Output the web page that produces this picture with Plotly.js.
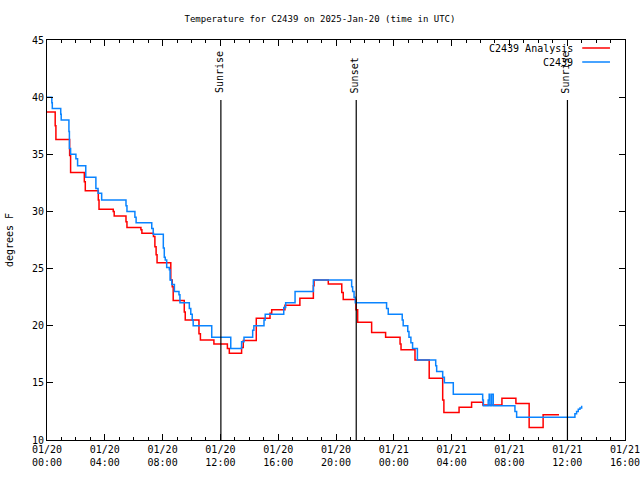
<!DOCTYPE html>
<html>
<head>
<meta charset="utf-8">
<script src="https://cdn.plot.ly/plotly-3.0.1.min.js"></script>
<style>html,body{margin:0;padding:0;background:#fff;}#chart{width:640px;height:480px;}</style>
</head>
<body>
<div id="chart"></div>
<script>
// C2439 Analysis (red) step changes
var analysisTimes = [
 '2025-01-20 00:00','2025-01-20 00:34','2025-01-20 00:37','2025-01-20 01:34','2025-01-20 01:38',
 '2025-01-20 02:35','2025-01-20 02:39','2025-01-20 03:33','2025-01-20 03:36','2025-01-20 04:35',
 '2025-01-20 04:39','2025-01-20 05:28','2025-01-20 05:32','2025-01-20 06:30','2025-01-20 06:34',
 '2025-01-20 07:22','2025-01-20 07:28','2025-01-20 07:33','2025-01-20 07:37','2025-01-20 08:34',
 '2025-01-20 08:40','2025-01-20 08:44','2025-01-20 09:30','2025-01-20 09:34','2025-01-20 10:31',
 '2025-01-20 10:37','2025-01-20 11:33','2025-01-20 12:29','2025-01-20 12:37','2025-01-20 13:28',
 '2025-01-20 13:35','2025-01-20 14:29','2025-01-20 15:26','2025-01-20 15:33','2025-01-20 16:28',
 '2025-01-20 17:30','2025-01-20 18:26','2025-01-20 18:29','2025-01-20 19:28','2025-01-20 20:24',
 '2025-01-20 20:30','2025-01-20 21:23','2025-01-20 21:30','2025-01-20 22:28','2025-01-20 23:26',
 '2025-01-21 00:26','2025-01-21 00:30','2025-01-21 01:28','2025-01-21 02:27','2025-01-21 03:23',
 '2025-01-21 03:28','2025-01-21 04:31','2025-01-21 05:23','2025-01-21 06:10','2025-01-21 07:29',
 '2025-01-21 08:27','2025-01-21 09:22','2025-01-21 10:20','2025-01-21 11:26'
];
var analysisTemps = [
 38.7,37.5,36.3,34.9,33.4,
 32.6,31.8,31.0,30.2,30.0,
 29.6,29.1,28.6,28.4,28.1,
 27.8,26.9,26.2,25.5,24.0,
 23.4,22.2,21.2,20.5,19.3,
 18.75,18.4,18.0,17.6,18.1,
 18.7,20.65,21.1,21.4,21.8,
 22.4,23.5,24.0,23.65,22.9,
 22.3,21.4,20.3,19.4,19.0,
 18.4,17.9,17.0,15.4,13.5,
 12.4,12.86,13.3,13.06,13.65,
 13.2,11.1,12.2,12.2
];
// C2439 observations (blue) step changes
var obsTimes = [
 '2025-01-20 00:00','2025-01-20 00:20','2025-01-20 00:22','2025-01-20 00:57','2025-01-20 00:59',
 '2025-01-20 01:31','2025-01-20 01:33','2025-01-20 01:38','2025-01-20 02:00','2025-01-20 02:07',
 '2025-01-20 02:41','2025-01-20 03:23','2025-01-20 03:32','2025-01-20 03:47','2025-01-20 05:28',
 '2025-01-20 05:32','2025-01-20 06:05','2025-01-20 06:10','2025-01-20 07:15','2025-01-20 07:21',
 '2025-01-20 08:03','2025-01-20 08:07','2025-01-20 08:11','2025-01-20 08:17','2025-01-20 08:28',
 '2025-01-20 08:31','2025-01-20 08:38','2025-01-20 08:49','2025-01-20 09:08','2025-01-20 09:12',
 '2025-01-20 09:51','2025-01-20 09:57','2025-01-20 10:03','2025-01-20 10:07','2025-01-20 11:24',
 '2025-01-20 12:43','2025-01-20 13:28','2025-01-20 13:38','2025-01-20 14:14','2025-01-20 14:19',
 '2025-01-20 15:01','2025-01-20 15:06','2025-01-20 16:23','2025-01-20 16:31','2025-01-20 17:10',
 '2025-01-20 18:26','2025-01-20 21:05','2025-01-20 21:09','2025-01-20 21:15','2025-01-20 21:20',
 '2025-01-20 23:30','2025-01-20 23:37','2025-01-21 00:35','2025-01-21 00:39','2025-01-21 00:58',
 '2025-01-21 01:03','2025-01-21 01:11','2025-01-21 01:18','2025-01-21 01:38','2025-01-21 02:54',
 '2025-01-21 02:58','2025-01-21 03:23','2025-01-21 03:30','2025-01-21 04:07','2025-01-21 06:09',
 '2025-01-21 06:12','2025-01-21 06:32','2025-01-21 06:36','2025-01-21 06:39','2025-01-21 06:46',
 '2025-01-21 06:53','2025-01-21 08:23','2025-01-21 08:30','2025-01-21 12:25','2025-01-21 12:32',
 '2025-01-21 12:39','2025-01-21 12:46','2025-01-21 12:53','2025-01-21 13:00'
];
var obsTemps = [
 40.0,39.5,39.0,38.5,38.0,
 37.0,35.5,35.0,34.6,34.0,
 33.0,32.0,31.6,31.0,30.5,
 30.0,29.5,29.0,28.5,28.0,
 26.8,26.0,25.75,25.1,24.9,
 24.0,23.6,23.0,22.7,22.0,
 21.5,21.0,20.5,20.0,19.0,
 18.0,18.6,19.0,19.6,20.0,
 20.5,21.0,21.6,22.0,23.0,
 24.0,23.4,23.0,22.5,22.0,
 21.5,21.0,20.5,20.0,19.5,
 19.0,18.5,18.0,17.0,16.5,
 16.0,15.5,15.0,14.0,13.5,
 13.0,13.5,14.0,13.0,14.0,
 13.0,12.5,12.0,12.0,12.3,
 12.5,12.7,12.8,13.0
];
var sunTimes = ['2025-01-20 12:02','2025-01-20 21:24','2025-01-21 12:01'];
var sunLabels = ['Sunrise','Sunset','Sunrise'];
var seriesNames = ['C2439 Analysis','C2439'];
var seriesColors = ['#ff0000','#0a84ff'];
var xTickFormat = '%m/%d<br>%H:%M';

var FONT = 'DejaVu Sans Mono, monospace';
var traces = [
 {x: analysisTimes, y: analysisTemps, name: seriesNames[0], type:'scatter', mode:'lines',
  line:{shape:'hv', color: seriesColors[0], width:1.5}},
 {x: obsTimes, y: obsTemps, name: seriesNames[1], type:'scatter', mode:'lines',
  line:{shape:'hv', color: seriesColors[1], width:1.5}}
];

var shapes = [];
var annotations = [];
sunTimes.forEach(function(t, i){
  shapes.push({type:'line', xref:'x', yref:'paper', x0:t, x1:t, y0:0, y1:0.85,
    line:{color:'#000', width:1.2}});
  annotations.push({xref:'x', yref:'paper', x:t, y:0.862, text:sunLabels[i], showarrow:false,
    textangle:-90, xanchor:'center', yanchor:'bottom', xshift:-2,
    font:{family:FONT, size:10, color:'#000'}});
});
// legend (text right-aligned, sample on the right like the original)
var legY = [0.98, 0.945];
seriesNames.forEach(function(n, i){
  annotations.push({xref:'paper', yref:'paper', x:0.9135, y:legY[i], text:n, showarrow:false,
    xanchor:'right', yanchor:'middle', font:{family:FONT, size:10, color:'#000'}});
  shapes.push({type:'line', xref:'paper', yref:'paper', x0:0.926, x1:0.974, y0:legY[i], y1:legY[i],
    line:{color:seriesColors[i], width:1.5}});
});

var layout = {
  width:640, height:480,
  margin:{l:47, r:15, t:40, b:40},
  paper_bgcolor:'#fff', plot_bgcolor:'#fff',
  showlegend:false,
  font:{family:FONT, size:10, color:'#000'},
  title:{text:'Temperature for C2439 on 2025-Jan-20 (time in UTC)', x:0.5, xref:'container',
    y:1-19/480, yref:'container', yanchor:'middle', font:{family:FONT, size:9, color:'#000'}},
  xaxis:{type:'date', range:['2025-01-20 00:00','2025-01-21 16:00'],
    dtick:4*3600*1000, tick0:'2025-01-20 00:00', tickformat:xTickFormat,
    ticks:'inside', ticklen:6, tickwidth:1, tickcolor:'#000', mirror:'allticks',
    ticklabeloverflow:'allow',
    showline:true, linecolor:'#000', linewidth:1, showgrid:false, zeroline:false,
    minor:{dtick:3600*1000, ticks:'inside', ticklen:3, tickcolor:'#000', showgrid:false},
    tickfont:{family:FONT, size:10, color:'#000'}},
  yaxis:{range:[10,45], dtick:5, ticks:'inside', ticklen:6, tickwidth:1, tickcolor:'#000',
    mirror:'allticks', showline:true, linecolor:'#000', linewidth:1, showgrid:false, zeroline:false,
    tickfont:{family:FONT, size:10, color:'#000'},
    title:{text:'degrees F', standoff:16, font:{family:FONT, size:10, color:'#000'}}},
  shapes:shapes,
  annotations:annotations
};
Plotly.newPlot('chart', traces, layout, {displayModeBar:false, staticPlot:true});
</script>
</body>
</html>
